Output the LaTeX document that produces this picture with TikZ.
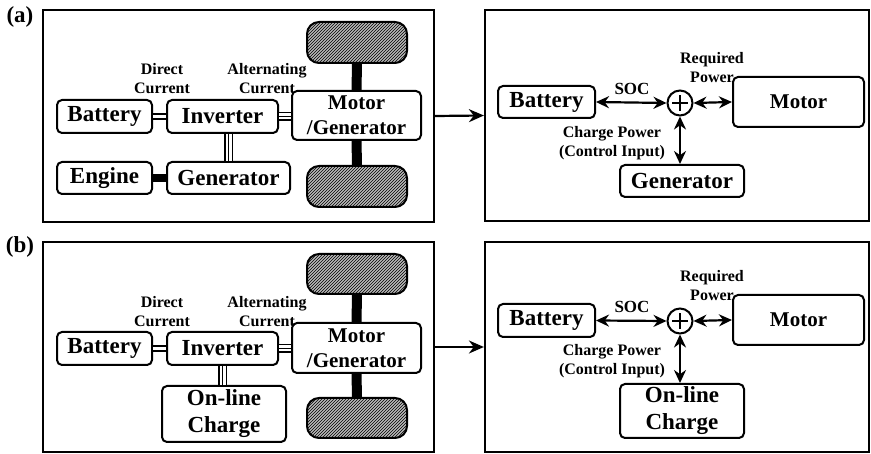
\documentclass[tikz,border=0pt]{standalone}
\usepackage{fontspec}
\setmainfont{Liberation Serif}
\usetikzlibrary{arrows.meta,patterns}
\begin{document}
\begin{tikzpicture}[x=1pt,y=-1pt,
  panel/.style={draw,line width=2.2pt,minimum width=#1,minimum height=210pt,inner sep=0pt},
  blk/.style={draw,line width=2pt,rounded corners=5pt,inner sep=0pt,align=center,
     font=\fontsize{23}{25}\selectfont\bfseries},
  wheel/.style={draw,line width=2pt,rounded corners=12pt,minimum width=100pt,minimum height=41pt,
     preaction={fill=gray!55},pattern=north east lines},
  lbl/.style={align=center,inner sep=0pt,font=\fontsize{16}{19}\selectfont\bfseries},
  tag/.style={inner sep=0pt,font=\fontsize{23}{24}\selectfont\bfseries},
  dbl/.style={draw,double,double distance=3.5pt,line width=1.8pt},
  trip/.style={draw,line width=1.6pt,preaction={draw,line width=9pt},preaction={draw,white,line width=6pt}},
  bar/.style={draw,line width=10pt},
  arr/.style={draw,line width=2.2pt,-{Stealth[length=15pt,width=13pt]}},
  darr/.style={draw,line width=2.2pt,{Stealth[length=13pt,width=12pt]}-{Stealth[length=13pt,width=12pt]}},
  sumc/.style={draw,circle,line width=2pt,minimum size=25pt,inner sep=0pt},
  plus/.style={line width=2pt}]
\useasboundingbox (0,0) rectangle (871,454);

% ---------------- (a) ----------------
\node[tag] (ta) at (20,17) {(a)};
\node[panel=391pt,minimum height=212pt] (pa) at (238.5,116) {};
\node[panel=384pt,minimum height=211pt] (qa) at (677,115.5) {};

\node[blk,minimum width=95pt,minimum height=33pt] (bat) at (104.5,116.5) {Battery};
\node[blk,minimum width=111pt,minimum height=33pt] (inv) at (222.5,116.5) {Inverter};
\node[blk,minimum width=129pt,minimum height=49pt,font=\fontsize{21}{25}\selectfont\bfseries] (mg) at (356.5,115.5) {Motor\\/Generator};
\node[blk,minimum width=95pt,minimum height=32pt] (eng) at (104.5,178) {Engine};
\node[blk,minimum width=123pt,minimum height=32pt] (gen) at (228.5,178) {Generator};
\node[wheel] (wt) at (357,42.5) {};
\node[wheel] (wb) at (357,186.5) {};
\node[lbl] (dc) at (162,79) {Direct\\Current};
\node[lbl] (ac) at (267,79) {Alternating\\Current};

\path[dbl] (bat.east) -- (inv.west);
\path[trip] (inv.east) -- (inv.east -| mg.west);
\path[trip] (gen.north) -- (gen.north |- inv.south);
\path[draw,line width=8pt] (eng.east) -- (gen.west);
\path[bar] (wt.south) -- (mg.north);
\path[bar] (mg.south) -- (wb.north);

\path[arr] (pa.east) -- (qa.west);

\node[blk,minimum width=97pt,minimum height=32pt] (rbat) at (546.5,102) {Battery};
\node[sumc] (sa) at (680,103) {};
\draw[plus] ([yshift=-8pt]sa.center) -- ([yshift=8pt]sa.center);
\draw[plus] ([xshift=-8pt]sa.center) -- ([xshift=8pt]sa.center);
\node[blk,minimum width=131pt,minimum height=50pt,font=\fontsize{21}{24}\selectfont\bfseries] (rmot) at (798.5,102) {Motor};
\node[blk,minimum width=124pt,minimum height=32pt] (rgen) at (682,181) {Generator};
\node[lbl,font=\fontsize{17}{19}\selectfont\bfseries] (soca) at (632,89) {SOC};
\node[lbl] (rpa) at (712,67.5) {Required\\Power};
\node[lbl] (cpa) at (612,143) {Charge Power\\(Control Input)};

\path[darr] (rbat.east) -- (sa.west);
\path[darr] (sa.east) -- (rmot.west);
\path[darr] (sa.south) -- (sa.south |- rgen.north);

% ---------------- (b) ----------------
\node[tag] (tb) at (20,247) {(b)};
\node[panel=391pt] (pb) at (238.5,347) {};
\node[panel=384pt] (qb) at (677,347) {};

\node[blk,minimum width=95pt,minimum height=33pt] (bat2) at (104.5,348.5) {Battery};
\node[blk,minimum width=111pt,minimum height=33pt] (inv2) at (222.5,348.5) {Inverter};
\node[blk,minimum width=129pt,minimum height=50pt,font=\fontsize{21}{25}\selectfont\bfseries] (mg2) at (356.5,348) {Motor\\/Generator};
\node[blk,minimum width=124pt,minimum height=56pt,font=\fontsize{23}{27}\selectfont\bfseries] (olc) at (224,414) {On-line\\Charge};
\node[wheel,minimum height=40pt] (wt2) at (357,274) {};
\node[wheel,minimum height=40pt] (wb2) at (357,418) {};
\node[lbl] (dc2) at (162,311.5) {Direct\\Current};
\node[lbl] (ac2) at (267,311.5) {Alternating\\Current};

\path[dbl] (bat2.east) -- (inv2.west);
\path[trip] (inv2.east) -- (inv2.east -| mg2.west);
\path[trip] (inv2.south) -- (inv2.south |- olc.north);
\path[bar] (wt2.south) -- (mg2.north);
\path[bar] (mg2.south) -- (wb2.north);

\path[arr] (pb.east) -- (qb.west);

\node[blk,minimum width=97pt,minimum height=33pt] (rbat2) at (546.5,320.5) {Battery};
\node[sumc] (sb) at (680,321) {};
\draw[plus] ([yshift=-8pt]sb.center) -- ([yshift=8pt]sb.center);
\draw[plus] ([xshift=-8pt]sb.center) -- ([xshift=8pt]sb.center);
\node[blk,minimum width=131pt,minimum height=50pt,font=\fontsize{21}{24}\selectfont\bfseries] (rmot2) at (798.5,320) {Motor};
\node[blk,minimum width=124pt,minimum height=54pt,font=\fontsize{23}{27}\selectfont\bfseries] (rolc) at (682,411) {On-line\\Charge};
\node[lbl,font=\fontsize{17}{19}\selectfont\bfseries] (socb) at (632,307) {SOC};
\node[lbl] (rpb) at (712,285.5) {Required\\Power};
\node[lbl] (cpb) at (612,361.5) {Charge Power\\(Control Input)};

\path[darr] (rbat2.east) -- (sb.west);
\path[darr] (sb.east) -- (rmot2.west);
\path[darr] (sb.south) -- (sb.south |- rolc.north);
\end{tikzpicture}
\end{document}
